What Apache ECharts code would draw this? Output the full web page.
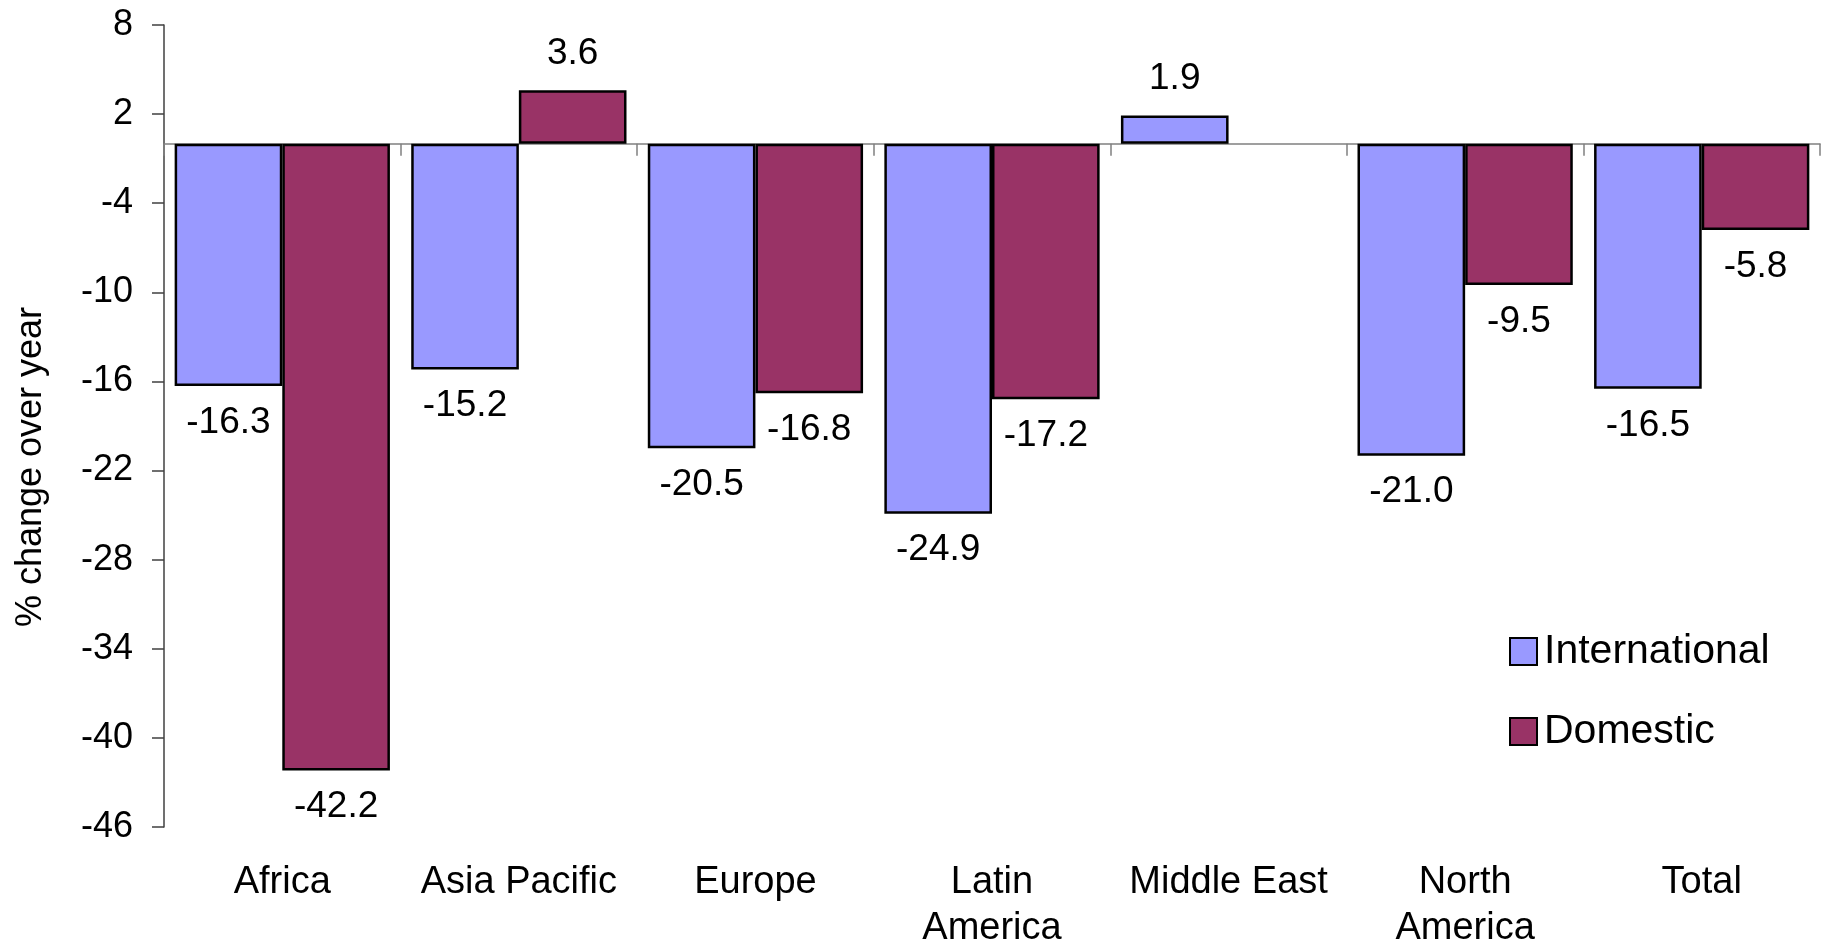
<!DOCTYPE html>
<html>
<head>
<meta charset="utf-8">
<script src="https://cdn.jsdelivr.net/npm/echarts@6/dist/echarts.min.js"></script>
<style>
html,body{margin:0;padding:0;background:#fff;}
#chart{width:1829px;height:952px;}
</style>
</head>
<body>
<div id="chart"></div>
<script>
var categories = ['Africa', 'Asia Pacific', 'Europe', 'Latin\nAmerica', 'Middle East', 'North\nAmerica', 'Total'];
var international = [-16.3, -15.2, -20.5, -24.9, 1.9, -21.0, -16.5];
var domestic = [-42.2, 3.6, -16.8, -17.2, null, -9.5, -5.8];
var yTicks = [-46, -40, -34, -28, -22, -16, -10, -4, 2, 8];
var seriesNames = ['International', 'Domestic'];
var seriesColors = ['#9999FF', '#993366'];

var FONT = '"Liberation Sans", Arial, sans-serif';

function toItems(arr) {
  return arr.map(function (v) {
    if (v === null) return '-';
    return { value: v, label: { position: v < 0 ? 'bottom' : 'top' } };
  });
}

function makeSeries(name, values, color) {
  return {
    name: name,
    type: 'bar',
    xAxisIndex: 0,
    yAxisIndex: 0,
    barGap: '0%',
    barCategoryGap: '9%',
    data: toItems(values),
    itemStyle: { color: color, borderColor: '#000', borderWidth: 2.5 },
    label: {
      show: true,
      distance: 18,
      fontFamily: FONT,
      fontSize: 37,
      color: '#000',
      formatter: function (p) { return Number(p.value).toFixed(1); }
    },
    emphasis: { disabled: true },
    animation: false
  };
}

var chart = echarts.init(document.getElementById('chart'), null, { renderer: 'canvas' });
chart.setOption({
  backgroundColor: '#ffffff',
  animation: false,
  grid: { left: 164, top: 25, right: 9, bottom: 120, containLabel: false },
  legend: {
    data: seriesNames,
    orient: 'vertical',
    left: 1504,
    top: 626,
    itemWidth: 27,
    itemHeight: 27,
    itemGap: 39,
    icon: 'rect',
    textStyle: { fontFamily: FONT, fontSize: 41, color: '#000', lineHeight: 41, padding: [0, 0, 0, 2] }
  },
  xAxis: [
    {
      type: 'category',
      data: categories,
      position: 'bottom',
      axisLine: { show: false, onZero: false },
      axisTick: { show: false },
      axisLabel: { fontFamily: FONT, fontSize: 38, color: '#000', margin: 33, lineHeight: 46, interval: 0 }
    },
    {
      type: 'category',
      data: categories,
      position: 'bottom',
      axisLine: { show: true, onZero: true, lineStyle: { color: '#808080', width: 1.5 } },
      axisTick: { show: true, length: 12, lineStyle: { color: '#808080', width: 1.5 } },
      axisLabel: { show: false }
    }
  ],
  yAxis: {
    type: 'value',
    min: -46,
    max: 8,
    splitLine: { show: false },
    axisLine: { show: true, lineStyle: { color: '#404040', width: 1.5 } },
    axisTick: { show: true, length: 12, customValues: yTicks, lineStyle: { color: '#404040', width: 1.5 } },
    axisLabel: { customValues: yTicks, fontFamily: FONT, fontSize: 36, color: '#000', margin: 31 }
  },
  graphic: [{
    type: 'text',
    x: 31,
    y: 467,
    rotation: Math.PI / 2,
    style: {
      text: '% change over year',
      font: '36px "Liberation Sans", Arial, sans-serif',
      fill: '#000',
      align: 'center',
      verticalAlign: 'middle'
    }
  }],
  series: [
    makeSeries(seriesNames[0], international, seriesColors[0]),
    makeSeries(seriesNames[1], domestic, seriesColors[1])
  ]
});
</script>
</body>
</html>
